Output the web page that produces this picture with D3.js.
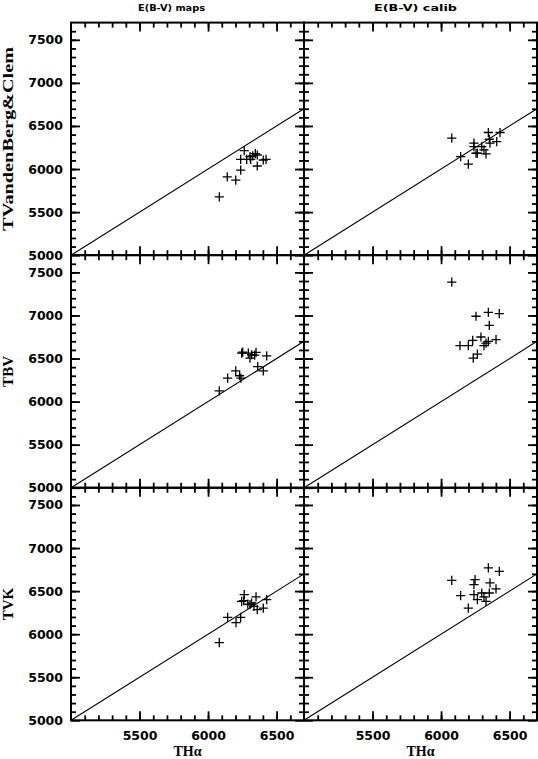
<!DOCTYPE html>
<html><head><meta charset="utf-8">
<script src="https://cdn.jsdelivr.net/npm/d3@7"></script>
<style>body{margin:0;background:#fff}svg{display:block}</style>
</head><body>
<script>
// ---- data ----
const columnTitles = ["E(B-V)  maps", "E(B-V)  calib"];
const rowTitles = ["TVandenBerg&Clem", "TBV", "TVK"];
const xTitle = "THα";
const xMajorTicks = [5500, 6000, 6500];
const yMajorTicks = [5000, 5500, 6000, 6500, 7000, 7500];

// top-left: E(B-V) maps, TVandenBerg&Clem vs THα
const mapsVBC_x = [6082, 6140, 6202, 6238, 6238, 6264, 6282, 6306, 6311, 6326, 6359, 6359, 6403, 6423, 6345];
const mapsVBC_y = [5677, 5910, 5872, 5988, 6113, 6214, 6113, 6144, 6113, 6152, 6163, 6035, 6105, 6113, 6180];
// top-right: E(B-V) calib, TVandenBerg&Clem
const calibVBC_x = [6078, 6143, 6199, 6240, 6240, 6255, 6265, 6297, 6313, 6328, 6345, 6357, 6352, 6406, 6430];
const calibVBC_y = [6358, 6144, 6058, 6300, 6260, 6183, 6183, 6260, 6222, 6175, 6424, 6300, 6346, 6318, 6424];
// middle-left: E(B-V) maps, TBV
const mapsBV_x = [6082, 6143, 6202, 6240, 6253, 6294, 6306, 6318, 6350, 6362, 6403, 6428, 6245, 6230, 6340];
const mapsBV_y = [6124, 6272, 6357, 6272, 6575, 6563, 6505, 6544, 6571, 6407, 6357, 6532, 6563, 6300, 6540];
// middle-right: E(B-V) calib, TBV
const calibBV_x = [6078, 6255, 6345, 6425, 6352, 6138, 6199, 6231, 6235, 6265, 6291, 6313, 6328, 6345, 6401];
const calibBV_y = [7388, 6991, 7037, 7022, 6886, 6649, 6649, 6711, 6505, 6552, 6750, 6649, 6680, 6699, 6719];
// bottom-left: E(B-V) maps, TVK
const mapsVK_x = [6082, 6143, 6204, 6238, 6245, 6264, 6306, 6318, 6350, 6359, 6403, 6428, 6335, 6260, 6290];
const mapsVK_y = [5902, 6194, 6135, 6194, 6381, 6459, 6342, 6362, 6432, 6284, 6303, 6400, 6323, 6390, 6350];
// bottom-right: E(B-V) calib, TVK
const calibVK_x = [6078, 6143, 6199, 6240, 6248, 6240, 6265, 6297, 6313, 6328, 6345, 6357, 6352, 6401, 6425];
const calibVK_y = [6625, 6447, 6303, 6575, 6633, 6459, 6400, 6478, 6432, 6381, 6770, 6595, 6478, 6525, 6730];

const panels = [
  [ {x: mapsVBC_x, y: mapsVBC_y}, {x: calibVBC_x, y: calibVBC_y} ],
  [ {x: mapsBV_x,  y: mapsBV_y},  {x: calibBV_x,  y: calibBV_y} ],
  [ {x: mapsVK_x,  y: mapsVK_y},  {x: calibVK_x,  y: calibVK_y} ]
];
const xDomain = [5000, 6700];
const yDomain = [5000, 7700];

// ---- layout ----
const W = 538, H = 759;
const colLeft = [71, 304], colW = 233;
const rowTop0 = 22.6, rowH = 232.57;
const tickFont = "'DejaVu Sans', sans-serif";

const svg = d3.select("body").append("svg").attr("width", W).attr("height", H);

const x = d3.scaleLinear().domain(xDomain).range([0, colW]);
const y = d3.scaleLinear().domain(yDomain).range([rowH, 0]);
const minorX = d3.range(5100, 6700, 100);
const minorY = d3.range(5100, 7700, 100);

function styleAxis(g) {
  g.select(".domain").remove();
  g.selectAll(".tick line").attr("stroke", "#000").attr("stroke-width", 1.8);
  g.selectAll("text").attr("fill", "#000").attr("font-family", tickFont)
    .attr("font-weight", "bold").attr("font-size", 12.5);
}

panels.forEach((row, r) => {
  row.forEach((p, c) => {
    const g = svg.append("g").attr("transform", `translate(${colLeft[c]},${rowTop0 + r * rowH})`);
    const showX = r === 2, showY = c === 0;
    // minor ticks
    g.append("g").attr("transform", `translate(0,${rowH})`)
      .call(d3.axisBottom(x).tickValues(minorX).tickSize(-5).tickFormat("")).call(styleAxis);
    g.append("g").call(d3.axisTop(x).tickValues(minorX).tickSize(-5).tickFormat("")).call(styleAxis);
    g.append("g").call(d3.axisLeft(y).tickValues(minorY).tickSize(-5).tickFormat("")).call(styleAxis);
    g.append("g").attr("transform", `translate(${colW},0)`)
      .call(d3.axisRight(y).tickValues(minorY).tickSize(-5).tickFormat("")).call(styleAxis);
    // major ticks
    g.append("g").attr("transform", `translate(0,${rowH})`)
      .call(d3.axisBottom(x).tickValues(xMajorTicks).tickSize(-9).tickPadding(10.8)
        .tickFormat(showX ? d3.format("d") : "")).call(styleAxis);
    g.append("g").call(d3.axisTop(x).tickValues(xMajorTicks).tickSize(-9).tickFormat("")).call(styleAxis);
    g.append("g").call(d3.axisLeft(y).tickValues(yMajorTicks).tickSize(-9).tickPadding(8)
        .tickFormat(showY ? d3.format("d") : "")).call(styleAxis);
    g.append("g").attr("transform", `translate(${colW},0)`)
      .call(d3.axisRight(y).tickValues(yMajorTicks).tickSize(-9).tickFormat("")).call(styleAxis);
    // frame
    g.append("rect").attr("width", colW).attr("height", rowH)
      .attr("fill", "none").attr("stroke", "#000").attr("stroke-width", 2);
    // one-to-one line
    g.append("line")
      .attr("x1", x(xDomain[0])).attr("y1", y(xDomain[0]))
      .attr("x2", x(xDomain[1])).attr("y2", y(xDomain[1]))
      .attr("stroke", "#000").attr("stroke-width", 1.1);
    // crosses
    const pts = p.x.map((v, i) => [v, p.y[i]]);
    g.selectAll("path.pt").data(pts).join("path").attr("class", "pt")
      .attr("transform", d => `translate(${x(d[0])},${y(d[1])})`)
      .attr("d", "M-4.6,0H4.6M0,-4.6V4.6")
      .attr("stroke", "#000").attr("stroke-width", 1.3).attr("fill", "none");
  });
});

// column titles
const titleX = [138, 374], titleLen = [67, 83];
columnTitles.forEach((t, c) => {
  svg.append("text").attr("x", titleX[c]).attr("y", 11)
    .attr("font-family", tickFont).attr("font-weight", "bold").attr("font-size", 8.5)
    .attr("textLength", titleLen[c]).attr("lengthAdjust", "spacingAndGlyphs")
    .text(t);
});

// row titles
rowTitles.forEach((t, r) => {
  const cy = rowTop0 + r * rowH + rowH / 2;
  const txt = svg.append("text").attr("transform", `translate(12.5,${cy}) rotate(-90)`)
    .attr("text-anchor", "middle")
    .attr("font-family", "'Liberation Serif', serif").attr("font-weight", "bold").attr("font-size", 15)
    .text(t);
  if (r === 0) txt.attr("textLength", 184).attr("lengthAdjust", "spacingAndGlyphs");
});

// x titles
colLeft.forEach(l => {
  svg.append("text").attr("x", l + colW / 2).attr("y", 756)
    .attr("text-anchor", "middle")
    .attr("font-family", "'Liberation Serif', serif").attr("font-weight", "bold").attr("font-size", 14)
    .text(xTitle);
});
</script>
</body></html>
